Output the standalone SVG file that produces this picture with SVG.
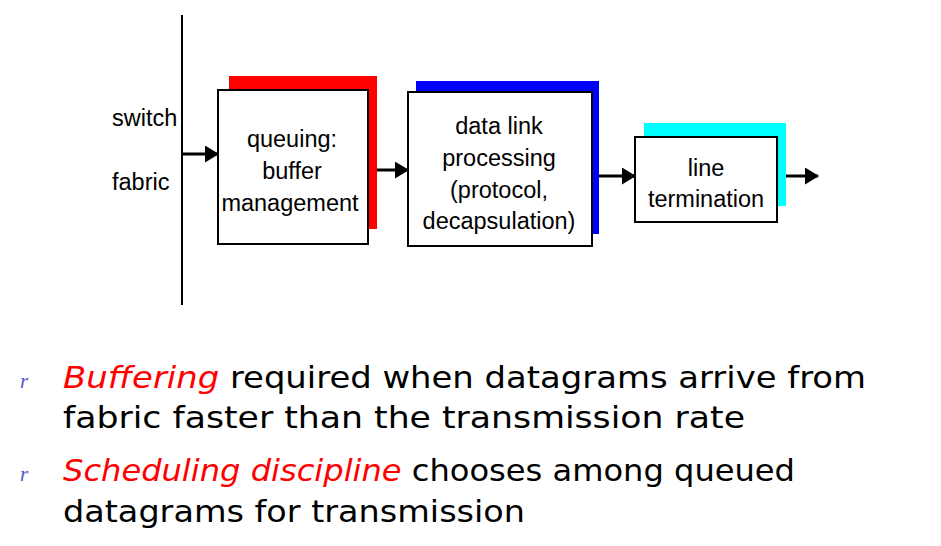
<svg xmlns="http://www.w3.org/2000/svg" width="941" height="546" viewBox="0 0 941 546">
<defs>
<marker id="ah" markerWidth="14" markerHeight="17" refX="13" refY="8.5" orient="auto" markerUnits="userSpaceOnUse">
<path d="M0,0 L14,8.5 L0,17 Z" fill="#000"/>
</marker>
</defs>
<style>
.box{fill:#fff;stroke:#000;stroke-width:2}
.lbl{font-family:"Liberation Sans",Arial,sans-serif;font-size:23.5px;fill:#000;text-anchor:middle}
.side{font-family:"Liberation Sans",Arial,sans-serif;font-size:23.5px;fill:#000}
.conn{stroke:#000;stroke-width:3;fill:none;marker-end:url(#ah)}
.body{font-family:"DejaVu Sans","Comic Sans MS",sans-serif;font-size:31px;fill:#000}
.red{fill:#ff0000;font-style:italic}
.bul{font-family:"Liberation Serif",serif;font-style:italic;font-size:21px;fill:#5555cc}
</style>
<rect width="941" height="546" fill="#fff"/>
<g id="fabric">
<line x1="182" y1="15" x2="182" y2="305" stroke="#000" stroke-width="2"/>
<text class="side" x="112" y="126">switch</text>
<text class="side" x="112" y="190">fabric</text>
</g>
<g id="queuing">
<rect x="229" y="76" width="148" height="153" fill="#ff0000"/>
<rect class="box" x="218" y="90" width="150" height="154"/>
<text class="lbl" x="292" y="147">queuing:</text>
<text class="lbl" x="292" y="179">buffer</text>
<text class="lbl" x="290" y="211">management</text>
</g>
<g id="datalink">
<rect x="416" y="81" width="183" height="153" fill="#0000ff"/>
<rect class="box" x="408" y="92" width="184" height="154"/>
<text class="lbl" x="499" y="134">data link</text>
<text class="lbl" x="499" y="166">processing</text>
<text class="lbl" x="499" y="198">(protocol,</text>
<text class="lbl" x="499" y="229">decapsulation)</text>
</g>
<g id="line">
<rect x="644" y="123" width="142" height="83" fill="#00ffff"/>
<rect class="box" x="635" y="137" width="142" height="85"/>
<text class="lbl" x="706" y="176">line</text>
<text class="lbl" x="706" y="207">termination</text>
</g>
<g id="connectors">
<line class="conn" x1="182" y1="154" x2="218" y2="154"/>
<line class="conn" x1="377" y1="170" x2="408" y2="170"/>
<line class="conn" x1="599" y1="176" x2="635" y2="176"/>
<line class="conn" x1="786" y1="176" x2="818" y2="176"/>
</g>
<g id="notes">
<text class="bul" x="20" y="388">r</text>
<text class="bul" x="20" y="481">r</text>
<text class="body" x="63" y="388" textLength="803" lengthAdjust="spacingAndGlyphs"><tspan class="red">Buffering</tspan> required when datagrams arrive from</text>
<text class="body" x="63" y="428" textLength="682" lengthAdjust="spacingAndGlyphs">fabric faster than the transmission rate</text>
<text class="body" x="63" y="481" textLength="732" lengthAdjust="spacingAndGlyphs"><tspan class="red">Scheduling discipline</tspan> chooses among queued</text>
<text class="body" x="63" y="522" textLength="462" lengthAdjust="spacingAndGlyphs">datagrams for transmission</text>
</g>
</svg>
